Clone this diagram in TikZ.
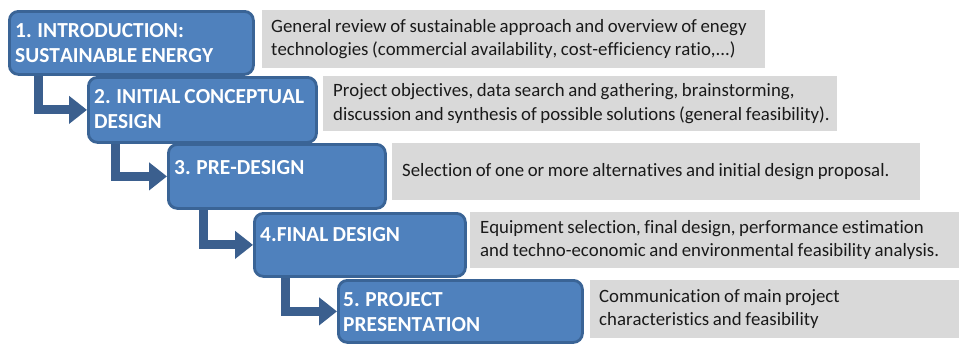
\documentclass[tikz,border=0pt]{standalone}
\usepackage{fontspec}
\setmainfont{Carlito}[WordSpace=0.85, Kerning=Off, Ligatures=NoCommon]
\usetikzlibrary{arrows.meta,calc}
\definecolor{boxfill}{HTML}{4F81BD}
\definecolor{boxline}{HTML}{3A6496}
\definecolor{arrowcol}{HTML}{3B5F8E}
\definecolor{grayfill}{HTML}{D9D9D9}
\definecolor{txt}{HTML}{1A1A1A}
\pgfdeclarelayer{bg}
\pgfsetlayers{bg,main}
\begin{document}
\begin{tikzpicture}[x=1pt,y=-1pt,
 stage/.style={draw=boxline, line width=2.8pt, fill=boxfill, rounded corners=9pt, anchor=north west, inner sep=0pt},
 stagetext/.style={anchor=north west, inner sep=0pt, text=white, font=\fontsize{21.4}{25}\selectfont\bfseries, align=left},
 note/.style={fill=grayfill, anchor=north west, inner sep=0pt},
 notetext/.style={anchor=west, inner sep=0pt, text=txt, font=\fontsize{18.8}{23.5}\selectfont, align=left},
 flow/.style={draw=arrowcol, line width=9pt, -{Triangle[width=27pt,length=18pt]}, line join=miter}
]
\useasboundingbox (0,0) rectangle (959,343);

% stage boxes
\node[stage, minimum width=244pt, minimum height=63pt] (b1) at (8,10) {};
\node[stage, minimum width=228pt, minimum height=65pt] (b2) at (87,76) {};
\node[stage, minimum width=217pt, minimum height=64pt] (b3) at (167,143) {};
\node[stage, minimum width=211pt, minimum height=63pt] (b4) at (253,212) {};
\node[stage, minimum width=244pt, minimum height=62pt] (b5) at (337,279) {};

% stage texts
\node[stagetext] (t1) at ($(b1.north west)+(7,13)$) {1. INTRODUCTION:\\SUSTAINABLE ENERGY};
\node[stagetext] (t2) at ($(b2.north west)+(7,13)$) {2. INITIAL CONCEPTUAL\\DESIGN};
\node[stagetext] (t3) at ($(b3.north west)+(7,17)$) {3. PRE-DESIGN};
\node[stagetext] (t4) at ($(b4.north west)+(7,15)$) {4.FINAL DESIGN};
\node[stagetext] (t5) at ($(b5.north west)+(6,13)$) {5. PROJECT\\PRESENTATION};

% notes
\node[note, minimum width=503pt, minimum height=58pt] (n1) at (262,10) {};
\node[note, minimum width=514pt, minimum height=55pt] (n2) at (323,76) {};
\node[note, minimum width=528pt, minimum height=57pt] (n3) at (392,143) {};
\node[note, minimum width=489pt, minimum height=56pt] (n4) at (470,212) {};
\node[note, minimum width=369pt, minimum height=58pt] (n5) at (590,280) {};

\node[notetext] (nt1) at ($(n1.west)+(9,0)$)
  {General review of sustainable approach and overview of enegy\\technologies (commercial availability, cost-efficiency ratio,...)};
\node[notetext] (nt2) at ($(n2.west)+(10,0)$)
  {Project objectives, data search and gathering, brainstorming,\\discussion and synthesis of possible solutions (general feasibility).};
\node[notetext] (nt3) at ($(n3.west)+(10,0)$)
  {Selection of one or more alternatives and initial design proposal.};
\node[notetext] (nt4) at ($(n4.west)+(10,0)$)
  {Equipment selection, final design, performance estimation\\and techno-economic and environmental feasibility analysis.};
\node[notetext] (nt5) at ($(n5.west)+(9,0)$)
  {Communication of main project\\characteristics and feasibility};

% elbow arrows
\begin{pgfonlayer}{bg}
\draw[flow] ($(b1.south west)+(30,-4)$) |- (b2.west);
\draw[flow] ($(b2.south west)+(28,-4)$) |- (b3.west);
\draw[flow] ($(b3.south west)+(36,-4)$) |- (b4.west);
\draw[flow] ($(b4.south west)+(32,-4)$) |- (b5.west);
\end{pgfonlayer}
\end{tikzpicture}
\end{document}
